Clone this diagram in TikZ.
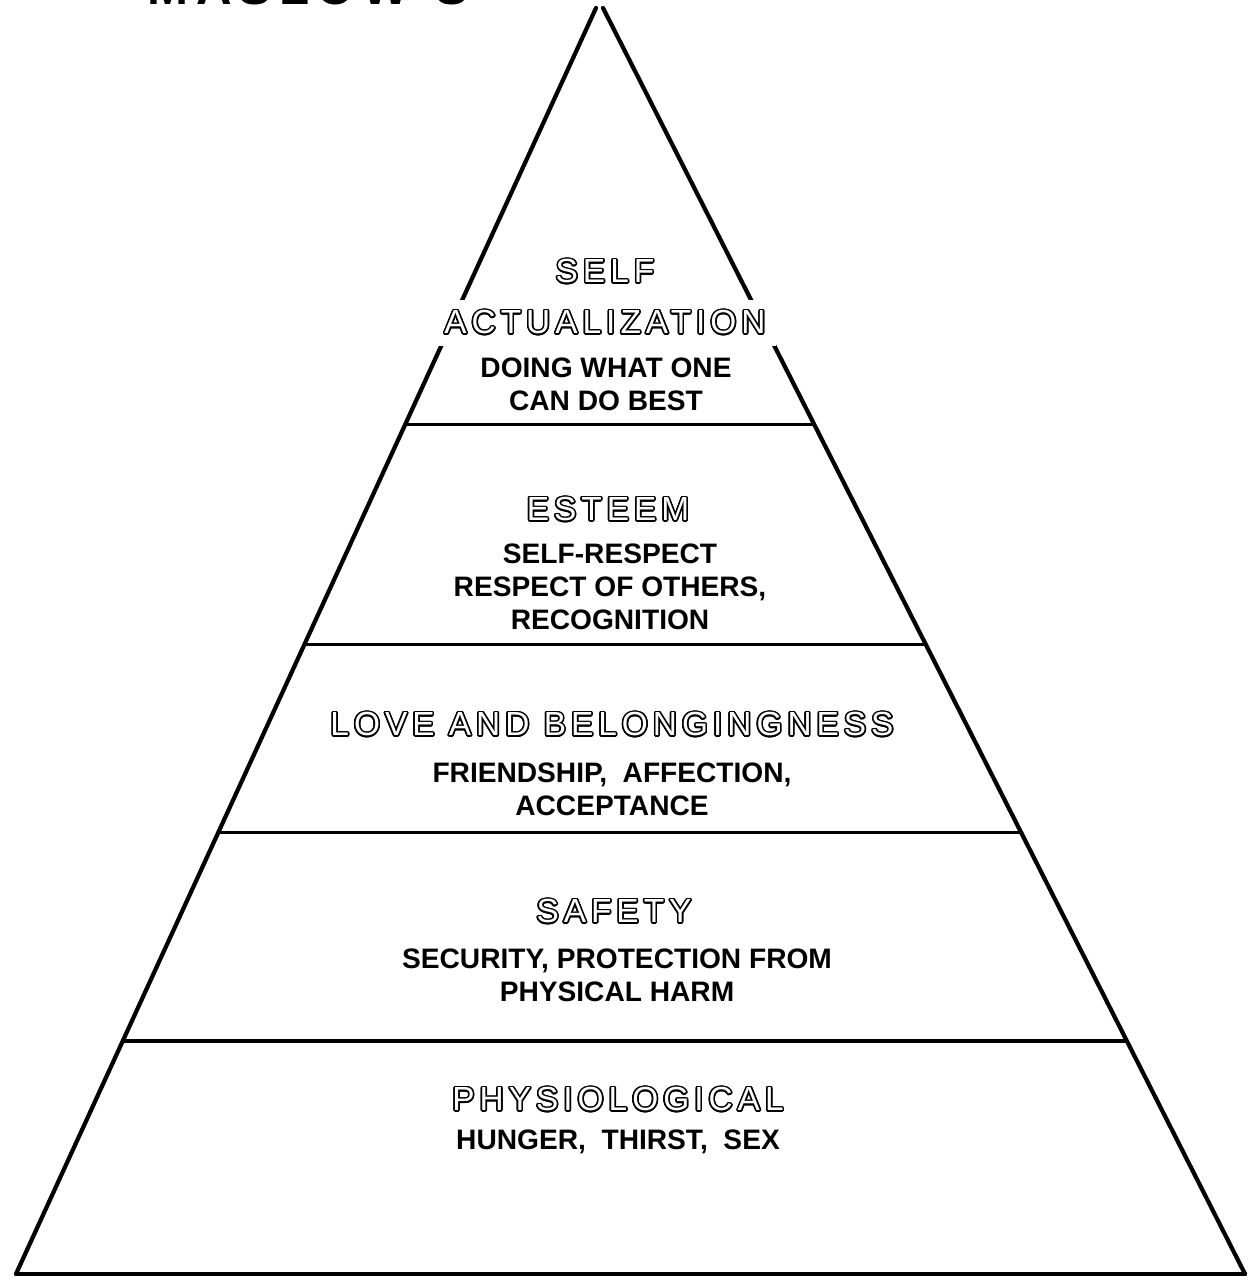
\documentclass[tikz,border=0pt]{standalone}
\usepackage{fontspec}
\setmainfont{Liberation Sans}
\newfontfamily\levelfont[LetterSpace=15]{Liberation Sans}
\usepackage{contour}
\contourlength{0.45pt}
\usetikzlibrary{calc}

\tikzset{
    edge/.style={line width=1.2pt, line cap=round},
    divider/.style={line width=0.9pt},
    level/.style={fill=white, text=white, inner sep=3pt,
        font=\levelfont\fontsize{9.5}{11}\selectfont},
    need/.style={align=center, inner sep=0pt,
        font=\bfseries\fontsize{8}{9.4}\selectfont},
}
\newcommand{\hollow}[1]{\contour{black}{#1}}

\begin{document}
\begin{tikzpicture}[x=0.01cm, y=0.01cm]
    \useasboundingbox (0,0) rectangle (1248,1280);

    % Corners of the pyramid
    \coordinate (topL) at (596,1272);
    \coordinate (topR) at (603,1272);
    \coordinate (botL) at (16,6);
    \coordinate (botR) at (1245,6);

    % Sides and base
    \draw[edge] (topL) -- (botL);
    \draw[edge] (topR) -- (botR);
    \draw[edge] (botL) -- (botR);

    % Lines between the levels
    \draw[divider] ($(topL)!0.329!(botL)$) -- ($(topR)!0.329!(botR)$);
    \draw[divider] ($(topL)!0.503!(botL)$) -- ($(topR)!0.503!(botR)$);
    \draw[divider] ($(topL)!0.651!(botL)$) -- ($(topR)!0.651!(botR)$);
    \draw[divider] ($(topL)!0.816!(botL)$) -- ($(topR)!0.816!(botR)$);

    % Heading, cut at the top edge
    \node[anchor=base west, inner sep=0pt, font=\levelfont\bfseries\fontsize{14}{16}\selectfont]
        (title) at (147,1275) {MASLOW'S};

    % Self actualization
    \node[level] (self) at (605,1008) {\hollow{SELF}};
    \node[level] (actual) at (605,957) {\hollow{ACTUALIZATION}};
    \node[need] (best) at (606,896) {DOING WHAT ONE\\CAN DO BEST};

    % Esteem
    \node[level] (esteem) at (608,770) {\hollow{ESTEEM}};
    \node[need] (respect) at (610,693) {SELF-RESPECT\\RESPECT OF OTHERS,\\RECOGNITION};

    % Love and belongingness
    \node[level] (love) at (612,555) {\hollow{LOVE AND BELONGINGNESS}};
    \node[need] (friends) at (612,491) {FRIENDSHIP,\ \ AFFECTION,\\ACCEPTANCE};

    % Safety
    \node[level] (safety) at (614,368) {\hollow{SAFETY}};
    \node[need] (security) at (617,305) {SECURITY,\ PROTECTION\ FROM\\PHYSICAL\ HARM};

    % Physiological
    \node[level] (physio) at (618,180) {\hollow{PHYSIOLOGICAL}};
    \node[need] (hunger) at (618,138) {HUNGER,\ \ THIRST,\ \ SEX};
\end{tikzpicture}
\end{document}
